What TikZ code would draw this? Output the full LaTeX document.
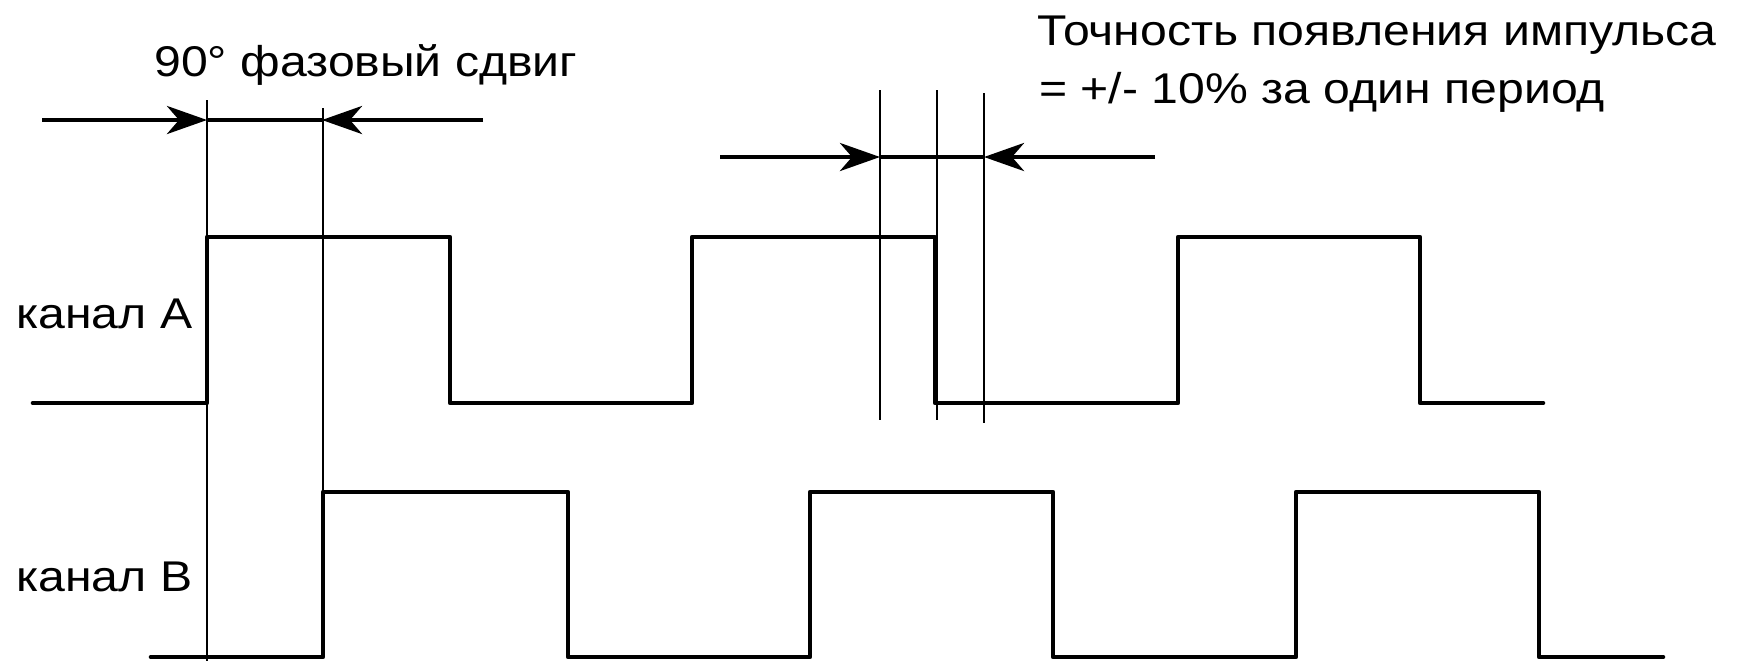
\documentclass[tikz,border=0pt]{standalone}
\usepackage{fontspec}
\setmainfont{Liberation Sans}
\newfontfamily\lblfont{Liberation Sans}[FakeStretch=1.12]
\usetikzlibrary{arrows.meta}
\begin{document}
\begin{tikzpicture}[x=0.5pt,y=-0.5pt,
  sig/.style={line width=2.3pt, line join=round, line cap=round},
  guide/.style={line width=1pt},
  dim/.style={line width=2.3pt},
  tipped/.style={dim, -{Stealth[length=20pt,width=14pt,inset=6pt]}},
  lbl/.style={font=\lblfont\fontsize{21.5}{25}\selectfont, inner sep=0pt, anchor=base west}]
\useasboundingbox (0,0) rectangle (1742,661);

% signals
\draw[sig] (33,403) -- (207,403) -- (207,237) -- (450,237) -- (450,403) -- (692,403) -- (692,237) -- (935,237) -- (935,403) -- (1178,403) -- (1178,237) -- (1420,237) -- (1420,403) -- (1543,403);
\draw[sig] (151,657) -- (323,657) -- (323,492) -- (568,492) -- (568,657) -- (810,657) -- (810,492) -- (1053,492) -- (1053,657) -- (1296,657) -- (1296,492) -- (1539,492) -- (1539,657) -- (1663,657);

% guide lines
\coordinate (g1t) at (207,100); \coordinate (g1b) at (207,661);
\coordinate (g2t) at (323,108); \coordinate (g2b) at (323,492);
\coordinate (g3t) at (880,90);  \coordinate (g3b) at (880,420);
\coordinate (g4t) at (937,90);  \coordinate (g4b) at (937,420);
\coordinate (g5t) at (984,93);  \coordinate (g5b) at (984,423);
\draw[guide] (g1t) -- (g1b);
\draw[guide] (g2t) -- (g2b);
\draw[guide] (g3t) -- (g3b);
\draw[guide] (g4t) -- (g4b);
\draw[guide] (g5t) -- (g5b);

% phase shift dimension
\coordinate (d1a) at (42,120);  \coordinate (d1l) at (207,120);
\coordinate (d1r) at (322,120); \coordinate (d1b) at (483,120);
\draw[tipped] (d1a) -- (d1l);
\draw[tipped] (d1b) -- (d1r);
\draw[dim] (d1l) -- (d1r);

% accuracy dimension
\coordinate (d2a) at (720,157);  \coordinate (d2l) at (880,157);
\coordinate (d2r) at (984,157);  \coordinate (d2b) at (1155,157);
\draw[tipped] (d2a) -- (d2l);
\draw[tipped] (d2b) -- (d2r);
\draw[dim] (d2l) -- (d2r);

% texts
\node[lbl] (phase) at (154,76) {90° фазовый сдвиг};
\node[lbl] (acc1) at (1037,45) {Точность появления импульса};
\node[lbl] (acc2) at (1039,103) {= +/- 10\% за один период};
\node[lbl] (chA) at (16,328) {канал А};
\node[lbl] (chB) at (16,591) {канал В};
\end{tikzpicture}
\end{document}
